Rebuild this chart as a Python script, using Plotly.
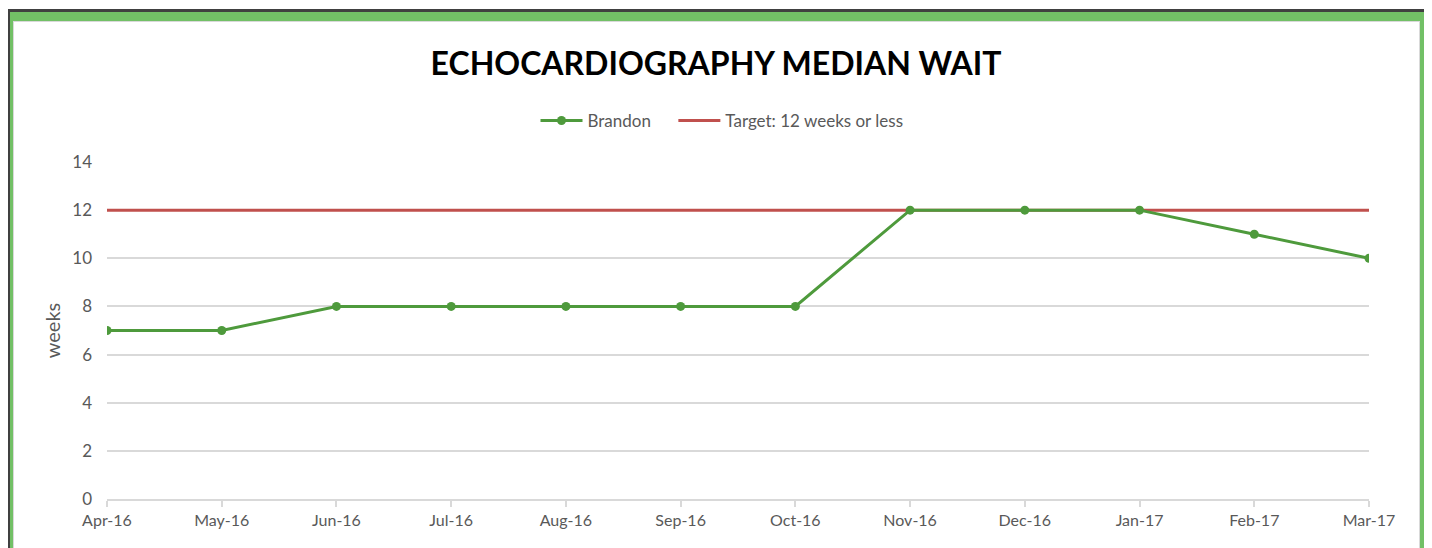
import plotly.graph_objects as go

months = ["Apr-16", "May-16", "Jun-16", "Jul-16", "Aug-16", "Sep-16",
          "Oct-16", "Nov-16", "Dec-16", "Jan-17", "Feb-17", "Mar-17"]
brandon = [7, 7, 8, 8, 8, 8, 8, 12, 12, 12, 11, 10]
target = [12] * 12
y_ticks = [0, 2, 4, 6, 8, 10, 12, 14]

# page body has an 8px margin; figure sits at (8, 8) in the window
OFF = 8
W, H = 1432 - OFF, 548 - OFF
L, R, T, B = 107 - OFF, 1369 - OFF, 162 - OFF, 499 - OFF
pw, ph = R - L, B - T


def px(x):
    return (x - OFF - L) / pw


def py(y):
    return (B - (y - OFF)) / ph


fig = go.Figure()
fig.add_trace(go.Scatter(x=months, y=target, mode="lines", name="Target: 12 weeks or less",
                         line=dict(color="#c0504d", width=3)))
fig.add_trace(go.Scatter(x=months, y=brandon, mode="lines+markers",
                         name="Brandon" + "&nbsp;" * 4,
                         line=dict(color="#4e9a3c", width=3),
                         marker=dict(color="#4e9a3c", size=9)))

shapes = []
def rect(x0, y0, x1, y1, color):
    shapes.append(dict(type="rect", xref="paper", yref="paper", layer="below",
                       x0=px(x0), x1=px(x1), y0=py(y0), y1=py(y1),
                       fillcolor=color, line=dict(width=0)))

rect(7, 9, 1428, 600, "#404040")
rect(10, 12, 1425, 600, "#72c066")
rect(13, 21, 1420, 600, "#d9d9d9")
rect(14, 22, 1419, 600, "#ffffff")
fig.update_layout(shapes=shapes)

fig.update_layout(
    width=W, height=H,
    margin=dict(l=L, r=W - R, t=T, b=H - B, pad=0),
    paper_bgcolor="white", plot_bgcolor="rgba(0,0,0,0)",
    font=dict(family="Lato, sans-serif", color="#595959", size=16),
    title=dict(text="<b>ECHOCARDIOGRAPHY MEDIAN WAIT</b>", xref="paper", x=px(716),
               xanchor="center", y=1 - (64 - OFF) / H, yanchor="middle",
               font=dict(family="Lato, sans-serif", size=32, color="#000000")),
    legend=dict(orientation="h", x=px(722), xanchor="center", y=py(121), yanchor="middle",
                font=dict(size=17, color="#595959"), traceorder="reversed",
                itemwidth=42, bgcolor="rgba(0,0,0,0)"),
    showlegend=True,
)
fig.update_xaxes(type="category", range=[0, 11], showgrid=False,
                 showline=True, linecolor="#d9d9d9", linewidth=1.5,
                 ticks="outside", ticklen=6, tickcolor="#d9d9d9", tickwidth=1.5,
                 tickfont=dict(size=16, color="#595959"), zeroline=False)
fig.update_yaxes(range=[0, 14], tickvals=y_ticks, showgrid=True, gridcolor="#d9d9d9",
                 gridwidth=1.5, zeroline=False, showline=False, ticks="",
                 ticklabelstandoff=14,
                 tickfont=dict(size=17, color="#595959"),
                 title=dict(text="weeks", font=dict(size=20, color="#595959"), standoff=6))

fig.write_html("out.html")
